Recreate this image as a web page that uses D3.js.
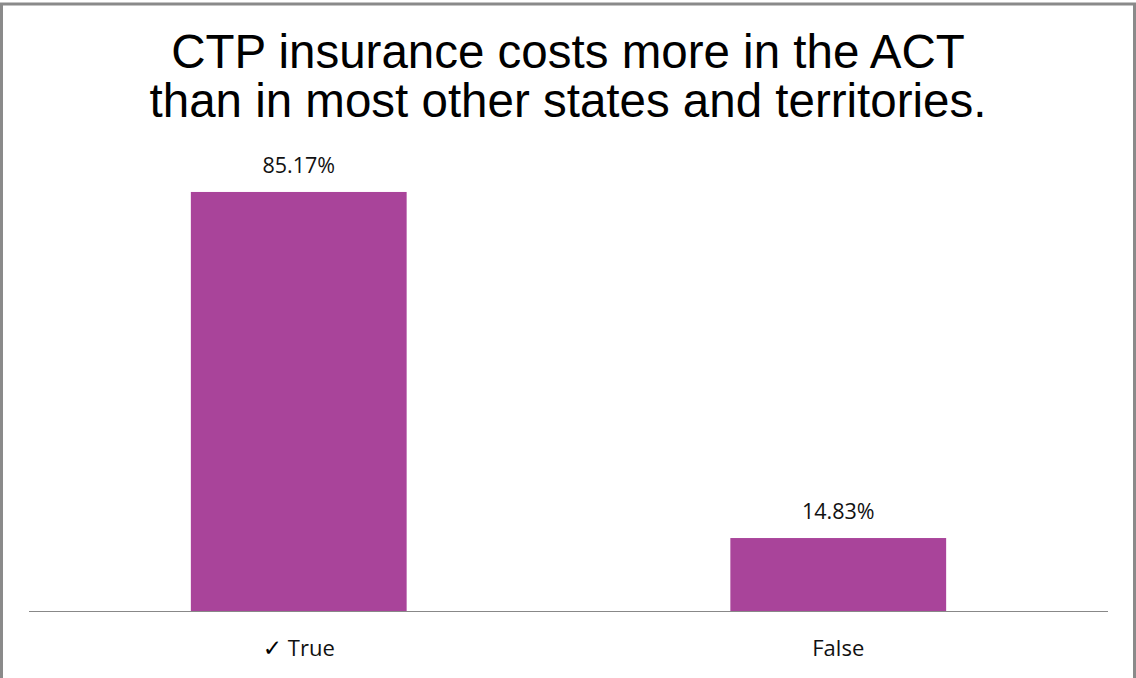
<!DOCTYPE html>
<html>
<head>
<meta charset="utf-8">
<script src="https://cdn.jsdelivr.net/npm/d3@7"></script>
<style>
  html, body { margin: 0; padding: 0; background: #fff; }
  svg { display: block; }
</style>
</head>
<body>
<svg id="chart" width="1136" height="678"></svg>
<script>
const titleLines = ["CTP insurance costs more in the ACT", "than in most other states and territories."];
const categories = ["\u2713 True", "False"];
const values = [85.17, 14.83];
const valueLabels = ["85.17%", "14.83%"];

const W = 1136, H = 678;
const svg = d3.select("#chart");

svg.append("rect").attr("width", W).attr("height", H).attr("fill", "#fff");

// outer border
svg.append("rect")
  .attr("x", 1.5).attr("y", 4)
  .attr("width", 1133).attr("height", 690)
  .attr("fill", "none").attr("stroke", "#8a8a8a").attr("stroke-width", 3);

// title
svg.append("g").selectAll("text").data(titleLines).join("text")
  .attr("x", 568)
  .attr("y", (d, i) => 68 + i * 49)
  .attr("text-anchor", "middle")
  .attr("font-family", "'Liberation Sans', Arial, sans-serif")
  .attr("font-size", 47.5)
  .attr("fill", "#000")
  .text(d => d);

const plot = { left: 29, right: 1108, top: 168, bottom: 611 };

const x = d3.scaleBand()
  .domain(categories)
  .range([plot.left, plot.right])
  .paddingInner(0.6)
  .paddingOuter(0.3);

const y = d3.scaleLinear()
  .domain([0, 90])
  .range([plot.bottom, plot.bottom - 90 * 4.92]);

// bars
svg.append("g").selectAll("rect").data(values).join("rect")
  .attr("x", (d, i) => x(categories[i]))
  .attr("y", d => y(d))
  .attr("width", x.bandwidth())
  .attr("height", d => y(0) - y(d))
  .attr("fill", "#A9449A");

// value labels
svg.append("g").selectAll("text").data(values).join("text")
  .attr("x", (d, i) => x(categories[i]) + x.bandwidth() / 2)
  .attr("y", d => y(d) - 19)
  .attr("text-anchor", "middle")
  .attr("font-family", "'Open Sans', sans-serif")
  .attr("font-size", 21.5)
  .attr("fill", "#111")
  .text((d, i) => valueLabels[i]);

// x axis
const xAxis = d3.axisBottom(x).tickSize(0).tickPadding(0);
const ax = svg.append("g")
  .attr("transform", `translate(0,${plot.bottom})`)
  .call(xAxis);
ax.select(".domain").attr("stroke", "#888").attr("stroke-width", 1.2)
  .attr("d", `M${plot.left},0.5H${plot.right}`);
ax.selectAll(".tick text")
  .attr("y", 0)
  .attr("dy", 0)
  .attr("transform", "translate(0,45)")
  .attr("font-family", "'Open Sans', sans-serif")
  .attr("font-size", 22)
  .attr("fill", "#111")
  .each(function(d) {
    const t = d3.select(this);
    if (d.startsWith("\u2713")) {
      t.text(null);
      t.append("tspan")
        .attr("font-family", "'DejaVu Sans', sans-serif")
        .attr("font-weight", "bold")
        .attr("font-size", 23)
        .attr("fill", "#000")
        .text("\u2713");
      t.append("tspan").text(d.slice(1));
    }
  });
</script>
</body>
</html>
